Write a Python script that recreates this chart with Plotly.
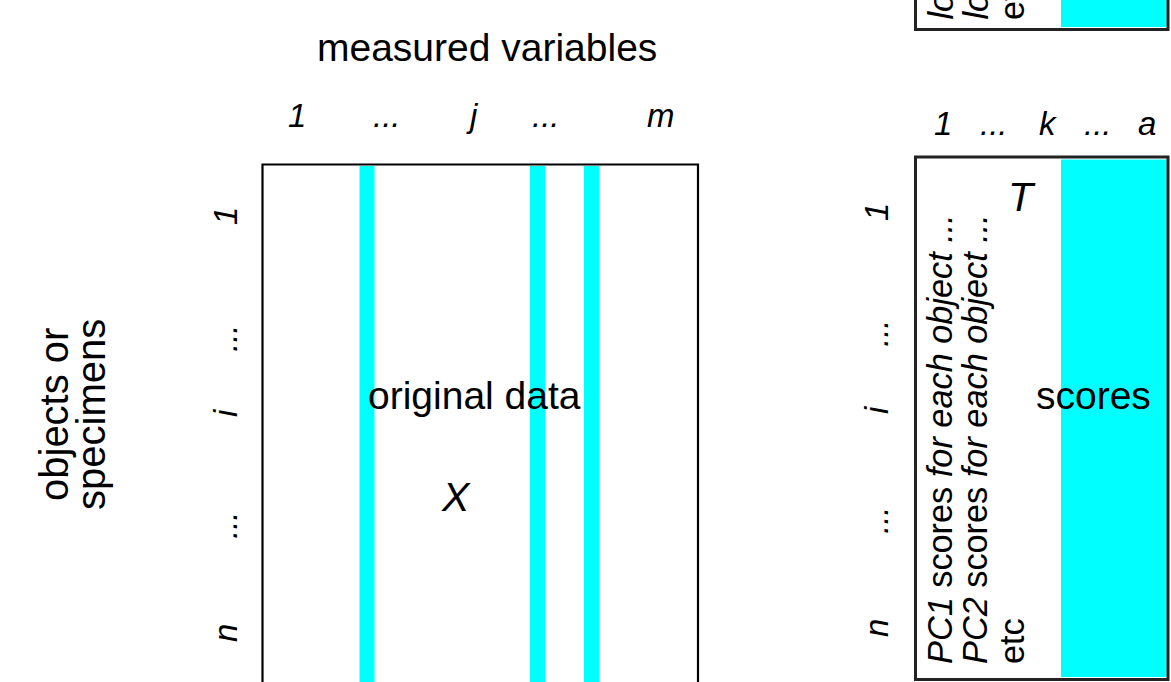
import plotly.graph_objects as go

# Schematic of PCA: data matrix X (n objects x m variables) -> scores T
col_labels_x = ["1", "...", "j", "...", "m"]
row_labels = ["1", "...", "i", "...", "n"]
col_labels_t = ["1", "...", "k", "...", "a"]
score_lines = ["<i>PC1</i> scores <i>for each object ...</i>",
               "<i>PC2</i> scores <i>for each object ...</i>",
               "etc"]
loading_lines = ["<i>loadings for each variable ...</i>",
                 "<i>loadings for each variable ...</i>",
                 "etc"]

W, H = 1171, 682
CYAN = "#00FFFF"
INK = "#000000"
FONT = "Liberation Sans, Arial, sans-serif"

# page layout (pixels, y grows downward)
X_BOX = dict(x0=262.5, x1=698, y0=164.5, y1=700)
X_BARS = [(359.5, 374.5), (530, 545.5), (584, 599.5)]
T_BOX = dict(x0=915.5, x1=1168, y0=157, y1=679.5)
T_FILL = (1061, 1166.5)
P_BOX = dict(x0=915.5, x1=1168, y0=-20, y1=29.5)

col_x_pos = [297, 387, 472, 546, 661]
col_t_pos = [943, 994, 1048, 1098, 1147]
row_y_pos = [216, 338, 413, 525, 633]
row_t_y_pos = [212, 333, 410, 520, 628]

fig = go.Figure()
fig.add_trace(go.Scatter(x=[0, W], y=[0, H], mode="markers",
                         marker=dict(opacity=0), hoverinfo="skip", showlegend=False))

shapes = []
for x0, x1 in X_BARS:
    shapes.append(dict(type="rect", x0=x0, x1=x1, y0=166, y1=700,
                       fillcolor=CYAN, line=dict(width=0), layer="below"))
shapes.append(dict(type="rect", **X_BOX, line=dict(color=INK, width=2.2)))
shapes.append(dict(type="rect", x0=T_FILL[0], x1=T_FILL[1], y0=159.5, y1=677,
                   fillcolor=CYAN, line=dict(width=0), layer="below"))
shapes.append(dict(type="rect", **T_BOX, line=dict(color="#222222", width=3)))
shapes.append(dict(type="rect", x0=T_FILL[0], x1=T_FILL[1], y0=-20, y1=27,
                   fillcolor=CYAN, line=dict(width=0), layer="below"))
shapes.append(dict(type="rect", **P_BOX, line=dict(color="#222222", width=3)))

ann = []


def txt(x, y, s, size, angle=0, xa="center", ya="middle"):
    ann.append(dict(x=x, y=y, xref="x", yref="y", text=s, showarrow=False,
                    textangle=angle, xanchor=xa, yanchor=ya,
                    font=dict(family=FONT, size=size, color=INK)))


txt(487, 47, "measured variables", 39)
# two lines set closer than plotly's line height, so one annotation each
txt(54, 415, "objects or", 40, angle=-90)
txt(91, 415, "specimens", 40, angle=-90)
for lab, x in zip(col_labels_x, col_x_pos):
    txt(x, 115, "<i>%s</i>" % lab, 33)
for lab, x in zip(col_labels_t, col_t_pos):
    txt(x, 123, "<i>%s</i>" % lab, 33)
for lab, y in zip(row_labels, row_y_pos):
    txt(225, y, "<i>%s</i>" % lab, 33, angle=-90)
for lab, y in zip(row_labels, row_t_y_pos):
    txt(876, y, "<i>%s</i>" % lab, 33, angle=-90)

txt(474, 395, "original data", 39)
txt(456, 497, "<i>X</i>", 41)
txt(1093, 395, "scores", 39)
txt(1022, 197, "<i>T</i>", 41)

for s, x in zip(score_lines, [940, 975, 1012]):
    txt(x, 666, s, 34.3, angle=-90, ya="bottom")
for s, x in zip(loading_lines, [940, 975, 1012]):
    txt(x, 22, s, 34.3, angle=-90, ya="bottom")

fig.update_layout(
    width=W, height=H,
    margin=dict(l=0, r=0, t=0, b=0),
    paper_bgcolor="white", plot_bgcolor="white",
    xaxis=dict(range=[0, W], visible=False, fixedrange=True),
    yaxis=dict(range=[H, 0], visible=False, fixedrange=True),
    shapes=shapes, annotations=ann, showlegend=False,
)
fig.write_html("out.html", config={"displayModeBar": False},
               post_script="document.body.style.margin='0';")
